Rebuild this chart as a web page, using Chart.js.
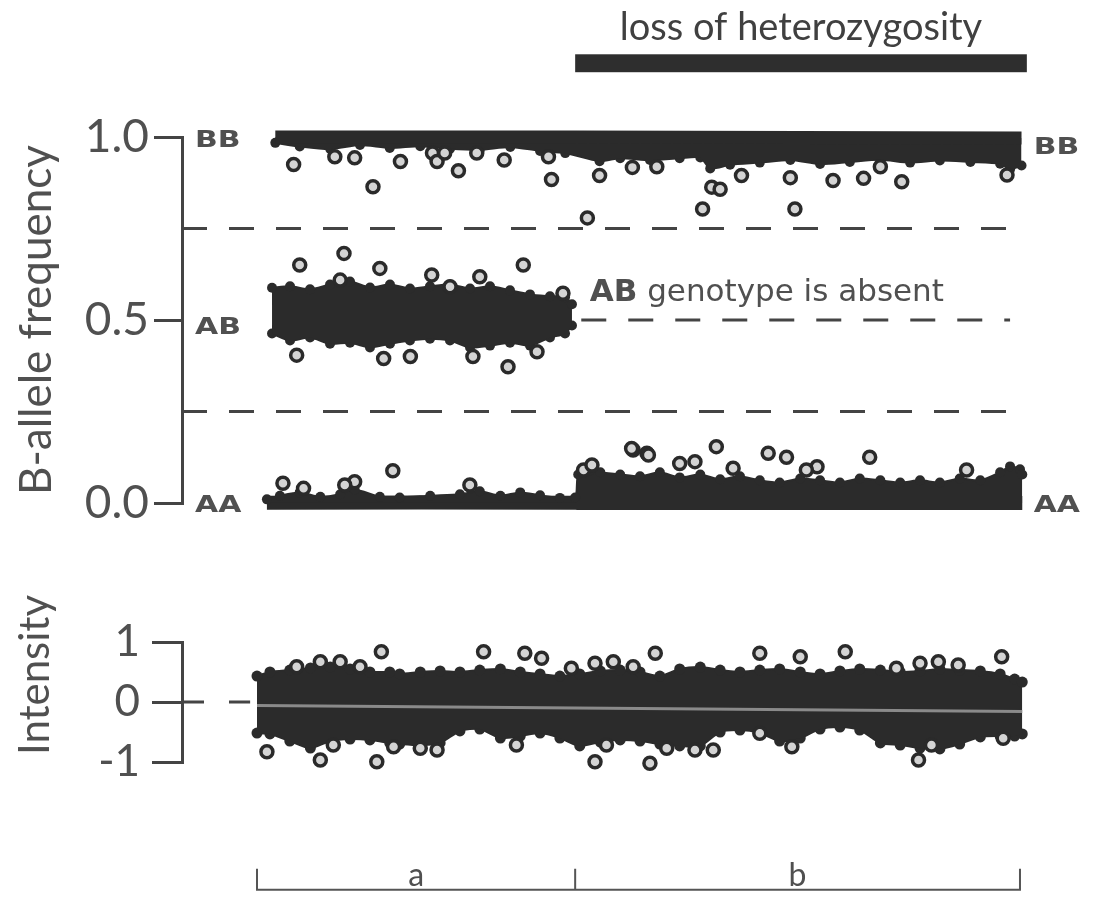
<!DOCTYPE html>
<html><head><meta charset="utf-8">
<script src="https://cdn.jsdelivr.net/npm/chart.js@4.4.1/dist/chart.umd.min.js"></script>
<style>
html,body{margin:0;padding:0;background:#fff;}
#wrap{position:relative;width:1093px;height:905px;overflow:hidden;background:#fff;}
canvas{position:absolute;left:0;}
#c1{top:0;} #c2{top:560px;}
</style></head><body>
<div id="wrap"><canvas id="c1" width="1093" height="560"></canvas><canvas id="c2" width="1093" height="345"></canvas></div>
<script>
// ---------- DATA (genomic position in arbitrary units: 0 = start of region a, 100 = end of region b) ----------
const regionLabels = ['a', 'b'];
const regionBounds = [0, 41.7, 100];
const lohLabel = 'loss of heterozygosity';
const lohRange = [41.7, 100.9];
const genotypeLabels = ['AA', 'AB', 'BB'];
const genotypeValues = [0, 0.5, 1];
const absentNoteBold = 'AB';
const absentNoteText = ' genotype is absent';

const bafTicks = [0, 0.5, 1];
const bafTitle = 'B-allele frequency';
const intTicks = [-1, 0, 1];
const intTitle = 'Intensity';

// B-allele frequency: BB cluster envelope
const bbTopPos = [2.4, 41.7, 100.2];
const bbTop    = [1.0, 1.0, 0.997];
const bbLowPos = [2.4, 5.6, 9.6, 13.5, 17.4, 21.4, 25.3, 29.2, 33.2, 37.1, 40.4, 44.9, 47.6, 51.5, 55.4, 58.1, 59.4, 62.0, 65.9, 69.9, 73.8, 77.7, 81.7, 85.6, 89.5, 93.5, 97.4, 98.7, 100.2];
const bbLow    = [0.984, 0.974, 0.967, 0.978, 0.970, 0.975, 0.968, 0.965, 0.973, 0.962, 0.956, 0.934, 0.942, 0.937, 0.942, 0.944, 0.914, 0.924, 0.930, 0.937, 0.926, 0.932, 0.938, 0.930, 0.936, 0.932, 0.927, 0.912, 0.922];

// AB cluster envelope (region a only)
const abPos  = [1.97, 4.33, 6.95, 9.57, 12.19, 14.81, 17.43, 20.05, 22.67, 25.29, 27.92, 30.54, 33.16, 35.78, 38.40, 40.37, 41.28];
const abHigh = [0.588, 0.592, 0.584, 0.597, 0.605, 0.589, 0.597, 0.586, 0.592, 0.597, 0.586, 0.592, 0.581, 0.570, 0.565, 0.562, 0.543];
const abLow  = [0.463, 0.444, 0.452, 0.435, 0.438, 0.425, 0.435, 0.444, 0.449, 0.444, 0.425, 0.430, 0.438, 0.430, 0.452, 0.463, 0.485];

// AA cluster envelope
const aaTopPos = [1.3, 3.0, 5.6, 8.3, 10.9, 12.8, 16.1, 18.7, 22.7, 26.6, 29.2, 31.9, 34.5, 37.1, 39.7, 41.7,
                  42.1, 43.6, 45.0, 47.6, 50.2, 52.8, 55.4, 58.1, 60.7, 63.3, 65.9, 68.5, 71.2, 73.8, 76.4, 79.0, 81.7, 84.3, 86.9, 89.5, 92.1, 94.8, 97.4, 98.7, 100.0, 100.3];
const aaTop    = [0.010, 0.020, 0.029, 0.017, 0.024, 0.037, 0.017, 0.015, 0.020, 0.024, 0.032, 0.020, 0.029, 0.021, 0.014, 0.015,
                  0.078, 0.089, 0.084, 0.078, 0.073, 0.084, 0.070, 0.078, 0.065, 0.073, 0.062, 0.056, 0.067, 0.062, 0.056, 0.067, 0.062, 0.056, 0.062, 0.056, 0.067, 0.062, 0.084, 0.100, 0.092, 0.078];
const aaLowPos = [1.3, 41.7, 42.1, 100.3];
const aaLow    = [0.001, 0.001, 0.0, 0.0];

// outlying B-allele calls
const bbOutX = [4.8, 10.2, 12.8, 15.2, 18.8, 23.0, 23.6, 24.6, 26.4, 28.8, 32.4, 38.2, 38.6, 43.3, 44.9, 49.2, 52.4, 58.4, 59.6, 60.7, 63.5, 69.9, 70.5, 75.5, 79.5, 81.7, 84.5, 98.3];
const bbOutY = [0.925, 0.946, 0.943, 0.864, 0.933, 0.956, 0.933, 0.956, 0.908, 0.956, 0.937, 0.946, 0.884, 0.779, 0.895, 0.917, 0.919, 0.803, 0.863, 0.857, 0.895, 0.889, 0.803, 0.881, 0.887, 0.919, 0.878, 0.896];
const abOutX = [11.4, 5.6, 16.1, 34.9, 22.9, 29.2, 10.9, 5.2, 16.6, 20.1, 28.3, 32.9, 36.7, 40.1, 25.3];
const abOutY = [0.682, 0.650, 0.641, 0.650, 0.623, 0.618, 0.609, 0.404, 0.395, 0.400, 0.400, 0.372, 0.413, 0.573, 0.591];
const aaOutX = [17.8, 3.4, 6.1, 12.8, 11.5, 27.9, 49.3, 51.1, 42.8, 60.2, 49.1, 67.0, 69.4, 80.3, 51.3, 57.4, 43.9, 55.4, 62.4, 73.4, 93.0, 72.0];
const aaOutY = [0.088, 0.054, 0.040, 0.058, 0.049, 0.049, 0.145, 0.136, 0.090, 0.154, 0.149, 0.136, 0.125, 0.125, 0.131, 0.113, 0.104, 0.108, 0.095, 0.099, 0.090, 0.090];

// genotype boundary reference lines
const refLineY    = [0.75, 0.5, 0.25];
const refLineFrom = [-9.83, 42.5, -9.83];
const refLineTo   = [98.9, 98.7, 98.7];

// Intensity envelope
const intPos  = [0.0, 1.7, 4.3, 7.0, 9.6, 12.2, 14.8, 17.4, 18.7, 21.4, 24.0, 26.6, 29.2, 31.9, 34.5, 37.1, 39.7, 42.3, 45.0, 47.6, 50.2, 52.8, 55.4, 58.1, 60.7, 63.3, 65.9, 68.5, 71.2, 73.8, 76.4, 79.0, 81.7, 84.3, 86.9, 89.5, 92.1, 94.8, 97.4, 99.3, 100.3];
const intHigh = [0.433, 0.500, 0.533, 0.567, 0.583, 0.550, 0.500, 0.500, 0.467, 0.500, 0.517, 0.500, 0.533, 0.550, 0.500, 0.467, 0.433, 0.467, 0.517, 0.533, 0.500, 0.433, 0.550, 0.583, 0.533, 0.500, 0.533, 0.550, 0.500, 0.467, 0.517, 0.550, 0.533, 0.500, 0.517, 0.550, 0.533, 0.517, 0.467, 0.383, 0.333];
const intLow  = [-0.517, -0.533, -0.650, -0.767, -0.650, -0.617, -0.633, -0.683, -0.700, -0.717, -0.683, -0.483, -0.450, -0.600, -0.567, -0.517, -0.600, -0.733, -0.667, -0.633, -0.650, -0.700, -0.733, -0.733, -0.500, -0.467, -0.517, -0.650, -0.600, -0.450, -0.417, -0.467, -0.683, -0.717, -0.767, -0.783, -0.700, -0.583, -0.567, -0.567, -0.533];
const intMidPos = [0.0, 100.3];
const intMid    = [-0.06, -0.16];
const intZeroPos = [-9.83, -0.9];
const intZero    = [0, 0];
const intOutHiX = [16.3, 8.3, 10.9, 5.2, 13.5, 29.7, 35.1, 37.3, 44.3, 46.7, 41.2, 49.3, 52.2, 65.9, 71.2, 77.1, 86.9, 89.3, 91.9, 83.8, 97.6];
const intOutHiY = [0.838, 0.672, 0.672, 0.588, 0.588, 0.838, 0.812, 0.728, 0.645, 0.672, 0.562, 0.588, 0.812, 0.812, 0.755, 0.838, 0.645, 0.672, 0.617, 0.562, 0.755];
const intOutLoX = [1.3, 3.4, 8.3, 8.7, 15.7, 10.0, 21.4, 23.6, 34.0, 39.3, 44.3, 44.5, 45.8, 17.9, 51.5, 53.7, 57.4, 59.8, 70.1, 81.9, 86.7, 86.9, 88.4, 97.8, 65.9];
const intOutLoY = [-0.828, -1.162, -0.967, -1.217, -0.995, -0.717, -0.772, -0.800, -0.717, -1.162, -0.995, -1.245, -0.717, -0.745, -1.022, -0.772, -0.800, -0.800, -0.745, -1.162, -0.967, -1.217, -0.717, -0.605, -0.522];

// ---------- STYLE ----------
const X_MIN = -9.83, X_MAX = 109.57;
const BAND = '#2b2b2b';
const INK = '#444';
const TEXT = '#505050';
const pts = (xs, ys) => xs.map((x, i) => ({x: x, y: ys[i]}));

function envelope(xs, ys, fill, r, bw) {
  return {data: pts(xs, ys), fill: fill, backgroundColor: BAND, borderColor: BAND, borderWidth: bw || 2,
          pointRadius: r, pointBackgroundColor: BAND, pointBorderWidth: 0, tension: 0.25, clip: false, order: 2};
}
function outliers(xs, ys) {
  return {data: pts(xs, ys), showLine: false, pointRadius: 6, pointBorderWidth: 3.5,
          pointBorderColor: '#2a2a2a', pointBackgroundColor: '#d4d4d4', clip: false, order: 0};
}
function refLine(xs, ys, dash, color, width, order) {
  return {data: pts(xs, ys), fill: false, borderColor: color, borderWidth: width, borderDash: dash,
          pointRadius: 0, clip: false, order: order};
}

const annot1 = {
  id: 'annot1',
  afterDraw(chart) {
    const {ctx, scales: {x, y}, chartArea} = chart;
    ctx.save();
    const x0 = x.getPixelForValue(lohRange[0]), x1 = x.getPixelForValue(lohRange[1]);
    const yT = y.getPixelForValue(1.226), yB = y.getPixelForValue(1.177);
    ctx.fillStyle = '#2e2e2e';
    ctx.fillRect(x0, yT, x1 - x0, yB - yT);
    ctx.fillStyle = '#404040';
    ctx.font = '38px Lato';
    ctx.textAlign = 'center';
    ctx.textBaseline = 'alphabetic';
    ctx.fillText(lohLabel, (x0 + x1) / 2, yT - 14);

    // genotype labels
    ctx.fillStyle = TEXT;
    ctx.font = 'bold 23px "DejaVu Sans"';
    ctx.textBaseline = 'middle';
    ctx.textAlign = 'left';
    const leftOff = [3, 8, 4];
    genotypeLabels.forEach((lab, i) => {
      ctx.save();
      ctx.translate(chartArea.left + 13, y.getPixelForValue(genotypeValues[i]) + leftOff[i]);
      ctx.scale(1.3, 1);
      ctx.fillText(lab, 0, 0);
      ctx.restore();
    });
    [[0, 3], [2, 11]].forEach(([i, off]) => {
      ctx.save();
      ctx.translate(x.getPixelForValue(101.8), y.getPixelForValue(genotypeValues[i]) + off);
      ctx.scale(1.3, 1);
      ctx.fillText(genotypeLabels[i], 0, 0);
      ctx.restore();
    });

    // note
    const nx = x.getPixelForValue(43.6), ny = y.getPixelForValue(0.574);
    ctx.font = 'bold 31px "DejaVu Sans"';
    ctx.fillText(absentNoteBold, nx, ny);
    const w = ctx.measureText(absentNoteBold).width;
    ctx.font = '31px "DejaVu Sans"';
    ctx.fillText(absentNoteText, nx + w, ny);
    ctx.restore();
  }
};

const annot2 = {
  id: 'annot2',
  afterDraw(chart) {
    const {ctx, scales: {x, y}} = chart;
    ctx.save();
    ctx.fillStyle = TEXT;
    ctx.font = '42px Lato';
    ctx.translate(35, y.getPixelForValue(0.45));
    ctx.rotate(-Math.PI / 2);
    ctx.textAlign = 'center';
    ctx.textBaseline = 'middle';
    ctx.fillText(intTitle, 0, 0);
    ctx.restore();

    ctx.save();
    const yLine = y.getPixelForValue(-3.13);
    const px = regionBounds.map(v => x.getPixelForValue(v));
    ctx.strokeStyle = '#555';
    ctx.lineWidth = 2;
    ctx.beginPath();
    ctx.moveTo(px[0], yLine);
    ctx.lineTo(px[px.length - 1], yLine);
    px.forEach(p => { ctx.moveTo(p, yLine + 1); ctx.lineTo(p, yLine - 21); });
    ctx.stroke();
    ctx.fillStyle = TEXT;
    ctx.font = '32px Lato';
    ctx.textAlign = 'center';
    ctx.textBaseline = 'alphabetic';
    regionLabels.forEach((lab, i) => ctx.fillText(lab, (px[i] + px[i + 1]) / 2, yLine - 4));
    ctx.restore();
  }
};

function yAxis(min, max, tickVals, fmt, tickLen, pad, fontSize, title) {
  return {
    type: 'linear', min: min, max: max,
    afterFit(s) { s.width = 182; },
    afterBuildTicks(s) { s.ticks = tickVals.map(v => ({value: v})); },
    ticks: {callback: fmt, font: {family: 'Lato', size: fontSize}, color: TEXT, padding: pad},
    grid: {drawOnChartArea: false, drawTicks: true, tickLength: tickLen, tickWidth: 3, tickColor: INK, lineWidth: 3, color: INK},
    border: {display: true, width: 3, color: INK},
    title: title ? {display: true, text: title, font: {family: 'Lato', size: 44}, color: TEXT, padding: {top: 10, bottom: 0}} : {display: false}
  };
}

const refSets = refLineY.map((v, i) => refLine([refLineFrom[i], refLineTo[i]], [v, v], [25, 22], INK, 3, 3));

new Chart(document.getElementById('c1'), {
  type: 'line',
  data: {datasets: [
    envelope(bbTopPos, bbTop, '+1', 0, 13),
    envelope(bbLowPos, bbLow, false, 5),
    envelope(abPos, abHigh, '+1', 5),
    envelope(abPos, abLow, false, 5),
    envelope(aaTopPos, aaTop, '+1', 5),
    envelope(aaLowPos, aaLow, false, 0, 14),
    ...refSets,
    outliers(bbOutX, bbOutY),
    outliers(abOutX, abOutY),
    outliers(aaOutX, aaOutY)
  ]},
  options: {
    responsive: false, animation: false, events: [],
    layout: {autoPadding: false, padding: {top: 137, bottom: 57, left: 0, right: 0}},
    plugins: {legend: {display: false}, tooltip: {enabled: false}},
    scales: {
      x: {type: 'linear', min: X_MIN, max: X_MAX, display: false},
      y: yAxis(0, 1, bafTicks, v => v.toFixed(1), 28, 5, 46, bafTitle)
    }
  },
  plugins: [annot1]
});

new Chart(document.getElementById('c2'), {
  type: 'line',
  data: {datasets: [
    envelope(intPos, intHigh, '+1', 5.5),
    envelope(intPos, intLow, false, 5.5),
    refLine(intMidPos, intMid, [], '#8a8a8a', 3, 1),
    refLine(intZeroPos, intZero, [22, 25], INK, 3, 3),
    outliers(intOutHiX, intOutHiY),
    outliers(intOutLoX, intOutLoY)
  ]},
  options: {
    responsive: false, animation: false, events: [],
    layout: {autoPadding: false, padding: {top: 82, bottom: 143, left: 0, right: 0}},
    plugins: {legend: {display: false}, tooltip: {enabled: false}},
    scales: {
      x: {type: 'linear', min: X_MIN, max: X_MAX, display: false},
      y: yAxis(-1, 1, intTicks, v => String(v), 30, 12, 44, null)
    }
  },
  plugins: [annot2]
});
</script>
</body></html>
